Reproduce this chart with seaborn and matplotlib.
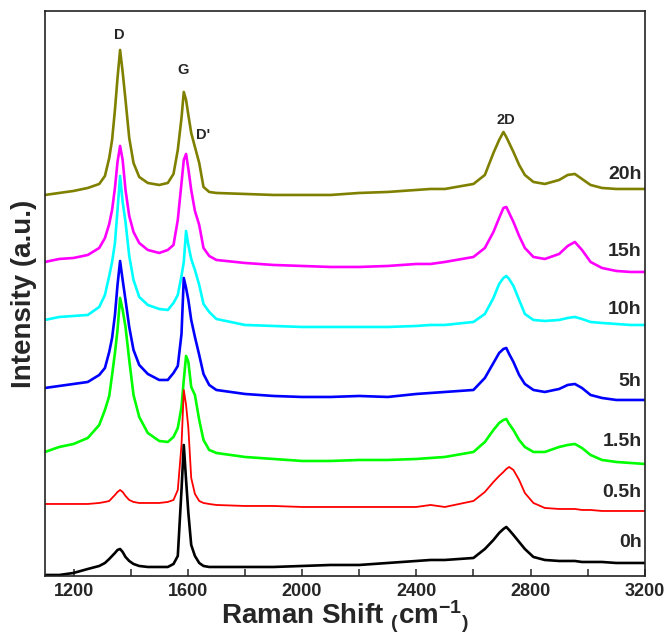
import pandas as pd
import matplotlib
matplotlib.use('Agg')
import matplotlib.pyplot as plt
import seaborn as sns

# Raman shift grid (cm-1)
shift = [1100, 1150, 1200, 1250, 1290, 1310, 1325, 1335, 1345, 1354,
         1363, 1372, 1382, 1395, 1410, 1430, 1460, 1500, 1530, 1550,
         1565, 1578, 1586, 1594, 1602, 1612, 1625, 1640, 1655, 1675,
         1700, 1800, 1900, 2000, 2100, 2200, 2300, 2400, 2450, 2500,
         2600, 2640, 2670, 2690, 2705, 2715, 2725, 2740, 2760, 2780,
         2810, 2850, 2900, 2930, 2955, 2980, 3010, 3050, 3100, 3150,
         3200]

# intensities relative to each spectrum's own baseline (a.u.)
int_20h = [0, 2, 4, 7, 11, 19, 37, 55, 85, 117,
           145, 123, 95, 57, 32, 18, 12, 10, 12, 21,
           45, 77, 103, 95, 80, 62, 48, 32, 8, 3,
           2, 1, 0, 0, 0, 2, 3, 5, 6, 6,
           11, 20, 42, 55, 63, 58, 52, 43, 30, 20,
           13, 11, 15, 20, 21, 16, 10, 7, 6, 6,
           6]
int_15h = [0, 3, 4, 7, 14, 24, 38, 52, 74, 100,
           116, 102, 72, 46, 30, 19, 12, 9, 12, 17,
           42, 79, 102, 108, 93, 72, 51, 37, 14, 6,
           2, -1, -3, -4, -5, -5, -4, -2, -2, 0,
           5, 14, 30, 44, 54, 55, 49, 40, 26, 14,
           5, 3, 8, 16, 20, 12, 0, -6, -9, -10,
           -10]
int_10h = [0, 3, 4, 5, 13, 25, 44, 58, 77, 110,
           144, 118, 98, 64, 40, 23, 15, 11, 10, 17,
           25, 44, 58, 89, 75, 61, 50, 35, 16, 8,
           1, -5, -6, -7, -7, -7, -7, -6, -5, -5,
           -2, 6, 22, 36, 42, 44, 41, 34, 20, 6,
           0, -1, 0, 2, 3, 1, -2, -3, -4, -5,
           -5]
int_5h = [0, 2, 4, 6, 13, 20, 36, 50, 73, 103,
          127, 108, 88, 61, 38, 23, 14, 8, 8, 15,
          22, 54, 110, 100, 88, 68, 51, 33, 14, 3,
          -2, -6, -8, -9, -9, -8, -9, -6, -5, -4,
          -2, 10, 25, 35, 39, 40, 34, 26, 13, 4,
          -2, -4, -1, 3, 4, 0, -7, -10, -12, -12,
          -12]
int_1_5h = [0, 5, 8, 14, 27, 42, 56, 77, 99, 122,
            154, 142, 125, 92, 57, 35, 19, 11, 10, 15,
            24, 45, 72, 96, 90, 65, 57, 32, 12, 2,
            -1, -5, -7, -9, -9, -8, -8, -7, -6, -5,
            0, 10, 22, 29, 32, 33, 28, 22, 12, 5,
            0, 0, 5, 7, 8, 4, -3, -8, -10, -11,
            -12]
int_0_5h = [0, 0, 0, 0, 1, 2, 3, 6, 9, 12,
            14, 12, 8, 4, 2, 1, 1, 1, 2, 4,
            14, 59, 114, 99, 76, 26, 10, 3, 1, 0,
            -1, -2, -2, -3, -3, -3, -3, -3, -1, -3,
            3, 12, 22, 28, 32, 35, 37, 34, 24, 11,
            1, -4, -5, -5, -5, -6, -6, -7, -7, -7,
            -7]
int_0h = [0, 0, 2, 6, 9, 12, 16, 19, 22, 25,
          26, 23, 18, 14, 11, 9, 8, 8, 8, 11,
          19, 85, 130, 95, 62, 30, 19, 12, 9, 8,
          8, 8, 8, 9, 10, 10, 12, 14, 15, 15,
          17, 26, 35, 42, 46, 48, 45, 40, 33, 26,
          18, 15, 14, 14, 14, 13, 13, 13, 12, 12,
          12]

samples = ['20h', '15h', '10h', '5h', '1.5h', '0.5h', '0h']
spectra = [int_20h, int_15h, int_10h, int_5h, int_1_5h, int_0_5h, int_0h]
offsets = [381, 314, 256, 188, 124, 72, 1]
colors = ['#808000', '#ff00ff', '#00ffff', '#0000ff', '#00ff00', '#ff0000', '#000000']

# long-form table for seaborn
rows = []
for name, vals, off in zip(samples, spectra, offsets):
    for x, y in zip(shift, vals):
        rows.append({'shift': x, 'intensity': y + off, 'sample': name})
df = pd.DataFrame(rows)

sns.set_style('ticks')
plt.rcParams['font.family'] = ['Liberation Sans', 'DejaVu Sans']
plt.rcParams['font.weight'] = 'bold'
plt.rcParams['mathtext.fontset'] = 'custom'
plt.rcParams['mathtext.rm'] = 'Liberation Sans:bold'
plt.rcParams['mathtext.it'] = 'Liberation Sans:bold'
plt.rcParams['mathtext.bf'] = 'Liberation Sans:bold'

fig = plt.figure(figsize=(6.71, 6.37), dpi=100)
ax = fig.add_axes([0.067, 0.0958, 0.894, 0.887])
sns.lineplot(data=df, x='shift', y='intensity', hue='sample', hue_order=samples,
             palette=colors, linewidth=1.9, legend=False, estimator=None, ax=ax)
ax.lines[5].set_linewidth(1.3)

ax.set_xlim(1100, 3200)
ax.set_ylim(0, 565)
ax.set_xticks(range(1200, 3201, 400))
ax.set_xticks(range(1200, 3201, 200), minor=True)
ax.set_yticks([])
ax.tick_params(axis='x', which='both', direction='in', length=5, width=1.1,
               labelsize=13, pad=5)
for lab in ax.get_xticklabels():
    lab.set_fontweight('bold')
for sp in ax.spines.values():
    sp.set_linewidth(1.2)
    sp.set_color('#222222')

ax.set_xlabel('Raman Shift $_{(}$cm$^{-1}$$_{)}$', fontsize=20, fontweight='bold', labelpad=-1)
ax.set_ylabel('Intensity (a.u.)', fontsize=20, fontweight='bold', labelpad=6)

# peak labels
for txt, x, y in [('D', 1360, 541), ('G', 1584, 506), ("D'", 1654, 441), ('2D', 2715, 456)]:
    ax.text(x, y, txt, ha='center', va='center', fontsize=10.5, fontweight='bold')

# sample labels at the right edge
label_y = [401, 324, 266, 194, 134, 83, 33]
for name, y in zip(samples, label_y):
    ax.text(3189, y, name, ha='right', va='center', fontsize=14, fontweight='bold')

fig.savefig('out.png', dpi=100)
